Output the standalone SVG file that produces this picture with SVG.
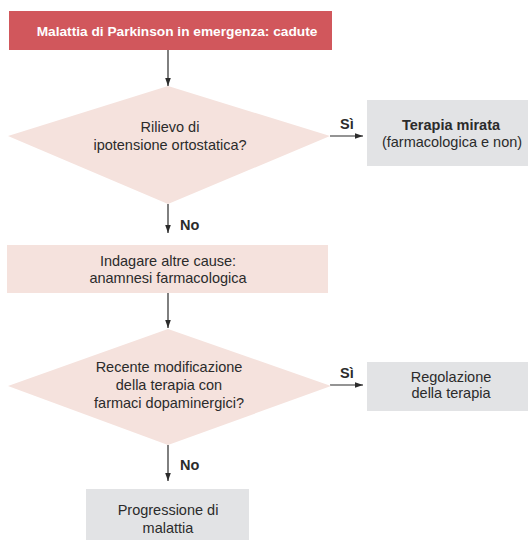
<svg xmlns="http://www.w3.org/2000/svg" width="528" height="540" viewBox="0 0 528 540">
  <defs>
    <marker id="arrow" viewBox="0 0 10 10" refX="10" refY="5" markerWidth="8" markerHeight="8" markerUnits="userSpaceOnUse" orient="auto">
      <path d="M0,1.5 L10,5 L0,8.5 Z" fill="#2b2b2b"/>
    </marker>
    <style>
      text { font-family: "Liberation Sans", Arial, sans-serif; font-size: 14.5px; fill: #2b2b2b; text-anchor: middle; }
      .title { fill: #ffffff; font-weight: bold; font-size: 13.7px; }
      .bold { font-weight: bold; }
      .lbl { font-weight: bold; text-anchor: start; }
      .pink { fill: #f5e2dd; }
      .grey { fill: #e2e3e5; }
      .head { fill: #d1575c; }
      .link { stroke: #2b2b2b; stroke-width: 1.2; fill: none; marker-end: url(#arrow); }
    </style>
  </defs>

  <rect width="528" height="540" fill="#ffffff"/>

  <!-- connectors and their branch labels -->
  <g id="connectors">
    <line class="link" x1="168" y1="50" x2="168" y2="86"/>
    <line class="link" x1="330" y1="136" x2="363" y2="136"/>
    <line class="link" x1="168" y1="204" x2="168" y2="233"/>
    <line class="link" x1="168" y1="293" x2="168" y2="328"/>
    <line class="link" x1="330" y1="385" x2="363" y2="385"/>
    <line class="link" x1="168" y1="445" x2="168" y2="481"/>
    <text class="lbl" x="340" y="129">Sì</text>
    <text class="lbl" x="180" y="230">No</text>
    <text class="lbl" x="340" y="378">Sì</text>
    <text class="lbl" x="180" y="470">No</text>
  </g>

  <g id="start">
    <rect class="head" x="9" y="11" width="323" height="39"/>
    <text class="title" x="177" y="36">Malattia di Parkinson in emergenza: cadute</text>
  </g>

  <g id="decision-hypotension">
    <polygon class="pink" points="168,86 330,136 168,204 8,136"/>
    <text x="170" y="132">Rilievo di</text>
    <text x="170" y="150">ipotensione ortostatica?</text>
  </g>

  <g id="targeted-therapy">
    <rect class="grey" x="367" y="100" width="161" height="66"/>
    <text class="bold" x="451" y="130">Terapia mirata</text>
    <text x="452" y="147">(farmacologica e non)</text>
  </g>

  <g id="other-causes">
    <rect class="pink" x="7" y="245" width="321" height="48"/>
    <text x="168" y="266">Indagare altre cause:</text>
    <text x="168" y="283">anamnesi farmacologica</text>
  </g>

  <g id="decision-dopaminergic">
    <polygon class="pink" points="168,329 331,386 168,445 8,386"/>
    <text x="169" y="372">Recente modificazione</text>
    <text x="169" y="390">della terapia con</text>
    <text x="169" y="408">farmaci dopaminergici?</text>
  </g>

  <g id="therapy-adjustment">
    <rect class="grey" x="367" y="362" width="161" height="49"/>
    <text x="451" y="382">Regolazione</text>
    <text x="451" y="398">della terapia</text>
  </g>

  <g id="disease-progression">
    <rect class="grey" x="86" y="489" width="163" height="51"/>
    <text x="168" y="515">Progressione di</text>
    <text x="168" y="533">malattia</text>
  </g>
</svg>
